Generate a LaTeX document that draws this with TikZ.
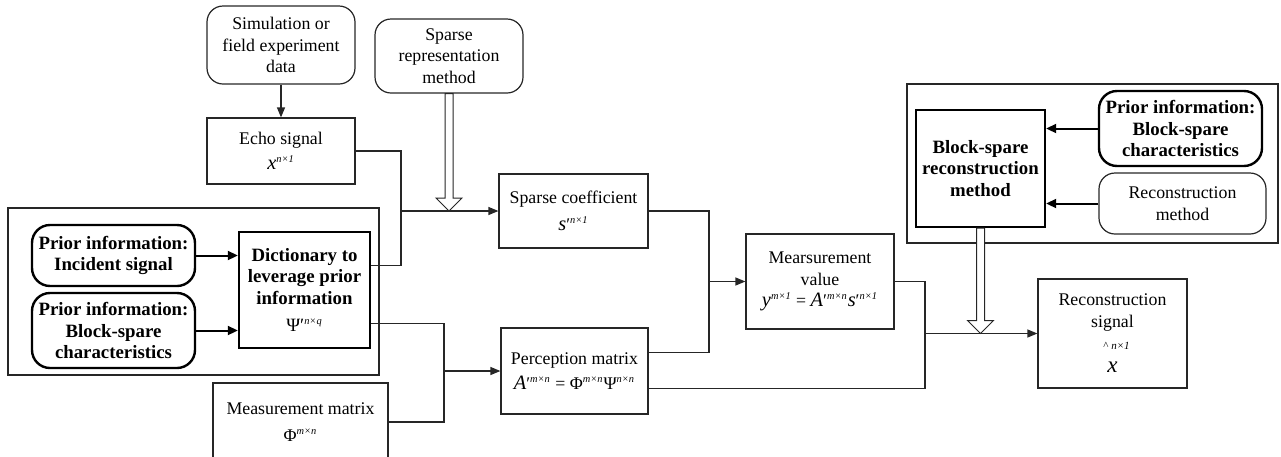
\documentclass[tikz,border=0pt]{standalone}
\usepackage{fontspec}
\setmainfont{Liberation Serif}
\usetikzlibrary{arrows.meta,calc}

% small italic exponent such as n×1
\newcommand\sx[1]{\textsuperscript{\fontsize{5.2}{5.2}\selectfont\itshape #1}}
% italic variable, set a little larger than the text
\newcommand\mv[1]{{\fontsize{10.2}{10.8}\selectfont\itshape #1}}

\begin{document}
\begin{tikzpicture}[x=0.5pt,y=-0.5pt,
  font=\fontsize{8.9}{10.8}\selectfont,
  plainbox/.style={draw=black!85, line width=0.6pt, align=center, inner sep=1pt},
  roundbox/.style={plainbox, rounded corners=8pt},
  boldbox/.style={plainbox, draw=black, line width=1.2pt, font=\fontsize{9.4}{10.8}\selectfont\bfseries},
  boldround/.style={boldbox, rounded corners=9pt},
  frame/.style={draw=black!85, line width=0.6pt},
  link/.style={draw=black!85, line width=0.6pt},
  arr/.style={link, -{Triangle[length=5pt,width=4pt]}},
  thickarr/.style={draw=black, line width=1pt, -{Triangle[length=5pt,width=4.5pt]}},
  hollow/.style={draw=black!85, line width=0.5pt, fill=white}]

\useasboundingbox (0,0) rectangle (1281,456);

% grouping frames
\draw[frame] (8,208) rectangle (379,375);
\draw[frame] (907,84) rectangle (1278,243);

% blocks
\node[roundbox, minimum width=74pt, minimum height=39pt] (sim) at (281,45)
  {Simulation or\\field experiment\\data};
\node[roundbox, minimum width=74pt, minimum height=37pt] (sr) at (449,56)
  {Sparse\\representation\\method};
\node[plainbox, minimum width=74pt, minimum height=33pt] (echo) at (281,151)
  {Echo signal\\[2pt]\mv{x}\sx{n×1}};
\node[boldround, minimum width=81.5pt, minimum height=30.5pt] (p1) at (113.5,255.5)
  {Prior information:\\Incident signal};
\node[boldround, minimum width=81.5pt, minimum height=37.5pt] (p2) at (113.5,330.5)
  {Prior information:\\Block-spare\\characteristics};
\node[boldbox, minimum width=65.5pt, minimum height=58pt] (dict) at (304.5,290)
  {Dictionary to\\leverage prior\\information\\[3pt]{\normalfont Ψ′\sx{n×q}}};
\node[plainbox, minimum width=87.5pt, minimum height=39pt] (mm) at (300.5,422)
  {Measurement matrix\\[3pt]Φ\sx{m×n}};
\node[plainbox, minimum width=74.5pt, minimum height=37pt] (sc) at (573.5,211)
  {Sparse coefficient\\[3pt]\mv{s}′\sx{n×1}};
\node[plainbox, minimum width=73.5pt, minimum height=43pt] (pm) at (574.5,371)
  {Perception matrix\\[2pt]\mv{A}′\sx{m×n} = Φ\sx{m×n}Ψ\sx{n×n}};
\node[plainbox, minimum width=74pt, minimum height=47.5pt] (mv) at (820,281.5)
  {Mearsurement\\value\\\mv{y}\sx{m×1} = \mv{A}′\sx{m×n}\mv{s}′\sx{n×1}};
\node[plainbox, minimum width=74.5pt, minimum height=54.5pt] (rs) at (1112.5,333.5)
  {Reconstruction\\signal\\[0pt]\hspace*{4pt}{\fontsize{5.5}{5.5}\selectfont\textasciicircum\ \itshape n×1}\\[1pt]{\fontsize{11.5}{11}\selectfont\itshape x}};
\node[boldbox, minimum width=64.5pt, minimum height=58.5pt] (br) at (980.5,168.5)
  {Block-spare\\reconstruction\\method};
\node[boldround, minimum width=81.5pt, minimum height=37.5pt] (p3) at (1180.5,128.5)
  {Prior information:\\Block-spare\\characteristics};
\node[roundbox, minimum width=83.5pt, minimum height=30.5pt] (rm) at (1182.5,203.5)
  {Reconstruction\\method};

% junction points of the connectors
\coordinate (j1) at (401,211);
\coordinate (j2) at (444,371);
\coordinate (j3) at (709,281.5);
\coordinate (j4) at (925,333.5);
\coordinate (d1) at ($(dict.north east)!0.293!(dict.south east)$);
\coordinate (d2) at ($(dict.north east)!0.784!(dict.south east)$);
\coordinate (q1) at ($(pm.north east)!0.29!(pm.south east)$);
\coordinate (q2) at ($(pm.north east)!0.70!(pm.south east)$);

% connectors
\draw[arr] (sim) -- (echo);
\draw[link] (echo.east) -| (j1);
\draw[link] (d1) -| (j1);
\draw[arr] (j1) -- (sc.west);
\draw[link] (d2) -| (j2) |- (mm.east);
\draw[arr] (j2) -- (pm.west);
\draw[link] (sc.east) -| (j3) |- (q1);
\draw[arr] (j3) -- (mv.west);
\draw[link] (mv.east) -| (j4) |- (q2);
\draw[arr] (j4) -- (rs.west);
\draw[thickarr] (p1.east) -- (p1.east -| dict.west);
\draw[thickarr] (p2.east) -- (p2.east -| dict.west);
\draw[thickarr] (p3.west) -- (p3.west -| br.east);
\draw[thickarr] (rm.west) -- (rm.west -| br.east);

% hollow block arrows
\draw[hollow] let \p1=(sr.south), \p2=(sr.south |- j1) in
  (\x1-2pt,\y1) -- (\x1-2pt,\y2+6.5pt) -- (\x1-6.5pt,\y2+6.5pt) -- (\x1,\y2)
  -- (\x1+6.5pt,\y2+6.5pt) -- (\x1+2pt,\y2+6.5pt) -- (\x1+2pt,\y1) -- cycle;
\draw[hollow] let \p1=(br.south), \p2=(br.south |- j4) in
  (\x1-2pt,\y1) -- (\x1-2pt,\y2+6.5pt) -- (\x1-6.5pt,\y2+6.5pt) -- (\x1,\y2)
  -- (\x1+6.5pt,\y2+6.5pt) -- (\x1+2pt,\y2+6.5pt) -- (\x1+2pt,\y1) -- cycle;
\end{tikzpicture}
\end{document}
